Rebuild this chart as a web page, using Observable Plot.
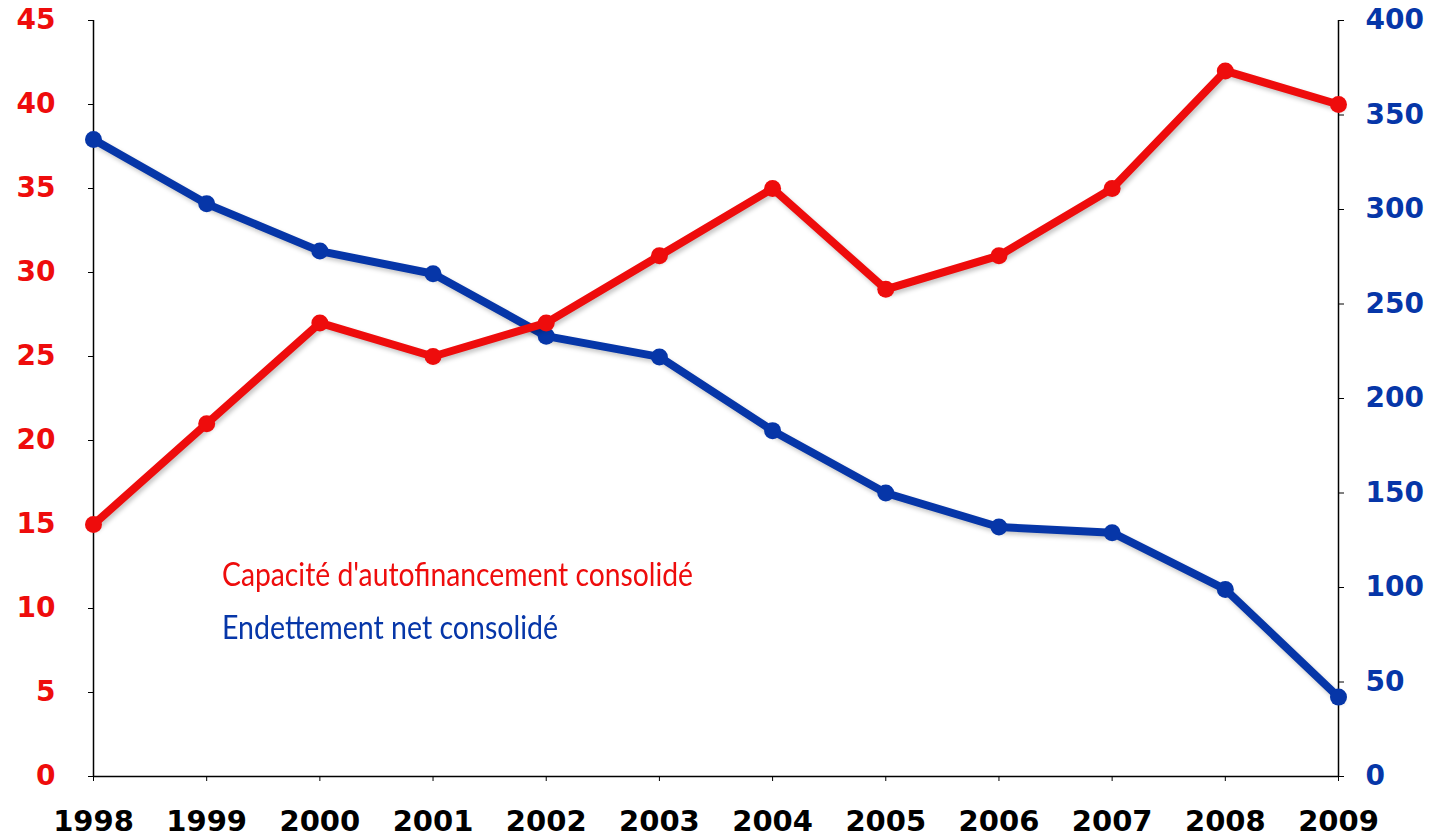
<!DOCTYPE html>
<html>
<head>
<meta charset="utf-8">
<script src="https://cdn.jsdelivr.net/npm/d3@7"></script>
<script src="https://cdn.jsdelivr.net/npm/@observablehq/plot@0.6"></script>
<style>
  html, body { margin: 0; padding: 0; background: #fff; overflow: hidden; }
  #wrap { position: relative; width: 1437px; height: 839px; }
  .legend { position: absolute; left: 222px; font-family: Lato, "Open Sans", sans-serif; font-size: 33px; line-height: 33px; white-space: nowrap; transform-origin: left top; }
  g[aria-label="line"] path { filter: drop-shadow(2px 3px 2px rgba(0,0,0,0.22)); }
</style>
</head>
<body>
<div id="wrap"></div>
<script>
// ---- data ----
const years = [1998, 1999, 2000, 2001, 2002, 2003, 2004, 2005, 2006, 2007, 2008, 2009];
const autofinancement = [15, 21, 27, 25, 27, 31, 35, 29, 31, 35, 42, 40];      // left axis
const endettement = [337, 303, 278, 266, 233, 222, 183, 150, 132, 129, 99, 42]; // right axis
const leftTicks = [0, 5, 10, 15, 20, 25, 30, 35, 40, 45];
const rightTicks = [0, 50, 100, 150, 200, 250, 300, 350, 400];
const seriesNames = ["Capacité d'autofinancement consolidé", "Endettement net consolidé"];

const RED = "#ee0c0c";
const BLUE = "#0636a8";
const k = 45 / 400; // right-axis value -> left-axis scale

const redData = years.map((year, i) => ({year, v: autofinancement[i]}));
const blueData = years.map((year, i) => ({year, v: endettement[i] * k}));

const chart = Plot.plot({
  width: 1437,
  height: 839,
  marginLeft: 93,
  marginRight: 99,
  marginTop: 20,
  marginBottom: 63,
  style: {fontFamily: "'DejaVu Sans', Verdana, sans-serif", fontWeight: "bold", background: "#fff", overflow: "visible"},
  x: {domain: [years[0], years[years.length - 1]]},
  y: {domain: [leftTicks[0], leftTicks[leftTicks.length - 1]]},
  marks: [
    Plot.axisX(years, {tickFormat: d => String(d), tickSize: 5, tickPadding: 29, fontSize: 29, fontWeight: "bold", fill: "#000", stroke: "#000", label: null}),
    Plot.axisY(leftTicks, {anchor: "left", tickSize: 5, tickPadding: 33, fontSize: 28, fontWeight: "bold", fill: RED, stroke: "#000", label: null}),
    Plot.axisY(rightTicks.map(t => t * k), {anchor: "right", tickFormat: t => String(Math.round(t / k)), tickSize: 5, tickPadding: 22, fontSize: 28, fontWeight: "bold", textAnchor: "start", fill: BLUE, stroke: "#000", label: null}),
    Plot.ruleX([years[0], years[years.length - 1]], {stroke: "#000", strokeWidth: 1.5}),
    Plot.ruleY([0], {stroke: "#000", strokeWidth: 1.5}),
    Plot.line(blueData, {x: "year", y: "v", stroke: BLUE, strokeWidth: 8, strokeLinejoin: "round"}),
    Plot.dot(blueData, {x: "year", y: "v", r: 8.5, fill: BLUE}),
    Plot.line(redData, {x: "year", y: "v", stroke: RED, strokeWidth: 8, strokeLinejoin: "round"}),
    Plot.dot(redData, {x: "year", y: "v", r: 8.5, fill: RED})
  ]
});

const wrap = document.getElementById("wrap");
wrap.appendChild(chart);

// legend (HTML text overlaid on the plot area)
const legendSpecs = [
  {text: seriesNames[0], color: RED, top: 557, width: 471},
  {text: seriesNames[1], color: BLUE, top: 610, width: 336}
];
for (const s of legendSpecs) {
  const el = document.createElement("div");
  el.className = "legend";
  el.textContent = s.text;
  el.style.color = s.color;
  el.style.top = s.top + "px";
  wrap.appendChild(el);
  const w = el.getBoundingClientRect().width;
  el.style.transform = `scaleX(${s.width / w})`;
}
</script>
</body>
</html>
